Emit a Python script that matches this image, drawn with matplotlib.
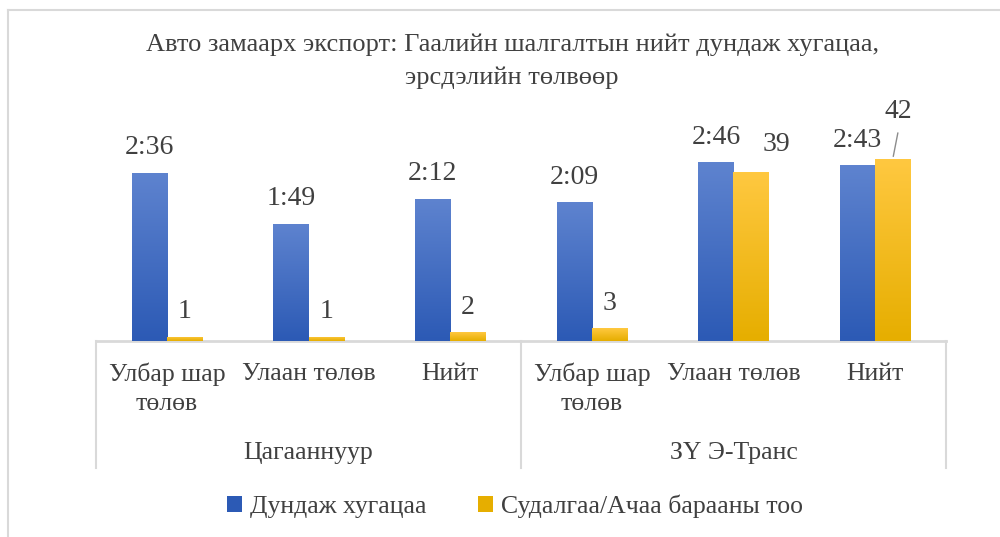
import matplotlib.pyplot as plt
import numpy as np
from matplotlib.colors import LinearSegmentedColormap
from matplotlib.lines import Line2D
from matplotlib.patches import Patch

plt.rcParams['font.family'] = ['Liberation Serif', 'DejaVu Serif']

# --- data ---
categories = ['Улбар шар\nтөлөв', 'Улаан төлөв', 'Нийт',
              'Улбар шар\nтөлөв', 'Улаан төлөв', 'Нийт']
groups = ['Цагааннуур', 'ЗҮ Э-Транс']
avg_time = ['2:36', '1:49', '2:12', '2:09', '2:46', '2:43']
counts = [1, 1, 2, 3, 39, 42]
series = ['Дундаж хугацаа', 'Судалгаа/Ачаа барааны тоо']

minutes = [int(t.split(':')[0]) * 60 + int(t.split(':')[1]) for t in avg_time]

BLUE = ('#5E83CF', '#2C5AB5')
YELLOW = ('#FFC840', '#E6AE00')
GRID = '#D9D9D9'
TXT = '#404040'

W, H = 1000, 537
fig = plt.figure(figsize=(W / 100, H / 100), dpi=100)

# axes: plot area from x=96..946 px, y=95..341 px
ax_l, ax_r, ax_t, ax_b = 96, 946, 95, 341
ax = fig.add_axes([ax_l / W, 1 - ax_b / H, (ax_r - ax_l) / W, (ax_b - ax_t) / H])
ax2 = ax.twinx()
ph = ax_b - ax_t


def grad_bars(a, xs, hs, w, cols):
    cmap = LinearSegmentedColormap.from_list('g', [cols[0], cols[1]])
    bars = a.bar(xs, hs, w, color=cols[1], zorder=2)
    g = np.linspace(0, 1, 100).reshape(-1, 1)
    for b in bars:
        x0 = b.get_x()
        im = a.imshow(g, extent=[x0, x0 + w, 0, b.get_height()], aspect='auto',
                      cmap=cmap, origin='upper', zorder=3)
        im.set_clip_path(b)
    return bars


x = np.arange(len(categories))
bw = 0.248
grad_bars(ax, x - bw / 2, minutes, bw, BLUE)
grad_bars(ax2, x + bw / 2, counts, bw, YELLOW)

ax.set_xlim(-0.5, len(categories) - 0.5)
ax.set_ylim(0, ph / 1.077)
ax2.set_ylim(0, ph / 4.33)
ax2.set_xlim(-0.5, len(categories) - 0.5)

for a in (ax, ax2):
    a.set_yticks([])
    a.set_xticks([])
    for s in a.spines.values():
        s.set_visible(False)

# data labels
for xi, m, t in zip(x, minutes, avg_time):
    ax.annotate(t, (xi - bw / 2, m), xytext=(0, 18), textcoords='offset points',
                ha='center', va='center', fontsize=20, color=TXT)
for i, (xi, c) in enumerate(zip(x, counts)):
    dx, dy = 0, 18
    if i == 4:
        dx, dy = 18, 20
    if i == 5:
        dx, dy = 4, 34
        ax2.annotate('', (xi + bw / 2, c), xytext=(xi + bw / 2 + 0.04, c + 29 / 4.33),
                     arrowprops=dict(arrowstyle='-', color='#8C8C8C', lw=1))
    ax2.annotate(str(c), (xi + bw / 2, c), xytext=(dx, dy), textcoords='offset points',
                 ha='center', va='center', fontsize=20, color=TXT)

# category axis
tr = ax.get_xaxis_transform()
ax.plot([-0.5, 5.5], [0, 0], color=GRID, lw=2, transform=tr, clip_on=False, zorder=1)
for xv in (-0.5, 2.5, 5.5):
    ax.plot([xv, xv], [0, -(468 - ax_b) / ph], color=GRID, lw=1.5,
            transform=tr, clip_on=False)


def yfrac(py):
    return (ax_b - py) / ph


for xi, lab in zip(x, categories):
    ax.text(xi, yfrac(363), lab, transform=tr, ha='center', va='top',
            fontsize=18.5, color=TXT, linespacing=1.4)
for gi, g in enumerate(groups):
    ax.text(1 + 3 * gi, yfrac(453), g, transform=tr, ha='center', va='center',
            fontsize=18.5, color=TXT)

fig.suptitle('Авто замаарх экспорт: Гаалийн шалгалтын нийт дундаж хугацаа,\nэрсдэлийн төлвөөр',
             x=0.512, y=1 - 34 / H, va='top', fontsize=19, color=TXT, linespacing=1.55)

handles = [Patch(facecolor=BLUE[1]), Patch(facecolor=YELLOW[1])]
fig.legend(handles, series, loc='center', bbox_to_anchor=(0.515, 1 - 506 / H),
           ncol=2, frameon=False, fontsize=18.5, handlelength=0.6, handleheight=0.6,
           handletextpad=0.3, columnspacing=2.0, labelcolor=TXT)

# outer chart frame
fig.add_artist(Line2D([8 / W, 1], [1 - 10 / H, 1 - 10 / H], color=GRID, lw=1.5))
fig.add_artist(Line2D([8 / W, 8 / W], [0, 1 - 10 / H], color=GRID, lw=1.5))

fig.savefig('out.png', dpi=100)
